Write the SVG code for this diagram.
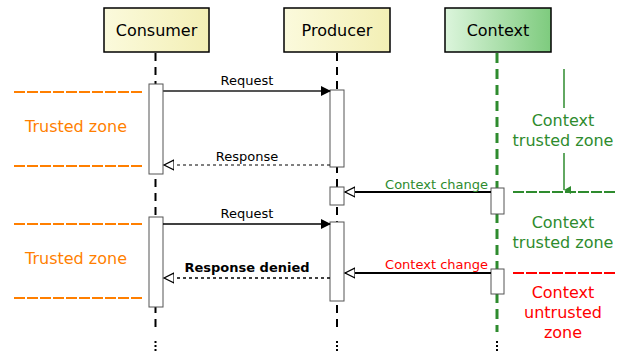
<svg xmlns="http://www.w3.org/2000/svg" width="618" height="355" viewBox="0 0 618 355">
<style>
text{font-family:"DejaVu Sans","Liberation Sans",sans-serif}
.box{stroke:#000;stroke-width:1.5}
.lbl{font-size:16px;text-anchor:middle;fill:#000}
.life{stroke:#000;stroke-width:2;stroke-dasharray:8,6;fill:none}
.act{fill:#fff;stroke:#555;stroke-width:1}
.msg{font-size:13px;text-anchor:middle;fill:#000}
.zone{font-size:16px;text-anchor:middle}
.orange{fill:#ff7f00}
.green{fill:#2e8b2e}
.red{fill:#ff0000}
</style>
<defs>
<linearGradient id="gy" x1="0" x2="1" y1="0" y2="0"><stop offset="0" stop-color="#fbfadc"/><stop offset="1" stop-color="#f3efb5"/></linearGradient>
<linearGradient id="gg" x1="0" x2="1" y1="0" y2="0"><stop offset="0" stop-color="#dcf5dc"/><stop offset="1" stop-color="#7ecb7e"/></linearGradient>
<marker id="filled" markerWidth="10" markerHeight="10" refX="9" refY="5" orient="auto" markerUnits="userSpaceOnUse"><path d="M0,0 L10,5 L0,10 z" fill="#000"/></marker>
<marker id="open" markerWidth="12" markerHeight="12" refX="10" refY="6" orient="auto" markerUnits="userSpaceOnUse"><path d="M0,1 L10,6 L0,11 z" fill="#fff" stroke="#000" stroke-width="1.2"/></marker>
<marker id="garrow" markerWidth="8" markerHeight="8" refX="4" refY="7" orient="auto" markerUnits="userSpaceOnUse"><path d="M0,0 L4,7 L8,0 z" fill="#2e8b2e"/></marker>
</defs>

<g id="lifelines">
<line class="life" x1="155.5" y1="53" x2="155.5" y2="332"/>
<line class="life" x1="337" y1="53" x2="337" y2="332"/>
<line x1="497" y1="53" x2="497" y2="332" stroke="#2e8b2e" stroke-width="3" stroke-dasharray="10,6"/>
<g fill="#000">
<rect x="154.5" y="341" width="2" height="2"/><rect x="154.5" y="345" width="2" height="2"/><rect x="154.5" y="349" width="2" height="2"/>
<rect x="336" y="341" width="2" height="2"/><rect x="336" y="345" width="2" height="2"/><rect x="336" y="349" width="2" height="2"/>
<rect x="496" y="341" width="2" height="2"/><rect x="496" y="345" width="2" height="2"/><rect x="496" y="349" width="2" height="2"/>
</g>
</g>

<g id="consumer">
<rect class="box" x="104" y="8" width="105" height="44" fill="url(#gy)"/>
<text class="lbl" x="156.5" y="36">Consumer</text>
</g>
<g id="producer">
<rect class="box" x="284" y="8" width="106" height="44" fill="url(#gy)"/>
<text class="lbl" x="337" y="36">Producer</text>
</g>
<g id="context">
<rect class="box" x="445" y="8" width="106" height="44" fill="url(#gg)"/>
<text class="lbl" x="498" y="36">Context</text>
</g>

<g id="activations">
<rect class="act" x="149" y="84" width="14" height="90"/>
<rect class="act" x="149" y="217" width="14" height="90"/>
<rect class="act" x="330" y="90" width="14" height="77"/>
<rect class="act" x="330" y="187" width="14" height="18"/>
<rect class="act" x="330" y="222" width="14" height="79"/>
<rect class="act" x="491" y="188" width="13" height="26"/>
<rect class="act" x="491" y="269" width="13" height="25"/>
</g>

<g id="connectors">
<line x1="163" y1="91" x2="330" y2="91" stroke="#555" stroke-width="2" marker-end="url(#filled)"/>
<line x1="330" y1="165" x2="164" y2="165" stroke="#000" stroke-width="1" stroke-dasharray="3,3" marker-end="url(#open)"/>
<line x1="491" y1="192" x2="345" y2="192" stroke="#000" stroke-width="2" marker-end="url(#open)"/>
<line x1="163" y1="224" x2="330" y2="224" stroke="#000" stroke-width="1.5" marker-end="url(#filled)"/>
<line x1="330" y1="278" x2="164" y2="278" stroke="#000" stroke-width="1.5" stroke-dasharray="3,3" marker-end="url(#open)"/>
<line x1="491" y1="273" x2="345" y2="273" stroke="#000" stroke-width="2" marker-end="url(#open)"/>
</g>

<g id="labels">
<text class="msg" x="247" y="85">Request</text>
<text class="msg" x="247" y="161">Response</text>
<text class="msg" x="247" y="218">Request</text>
<text class="msg" x="247" y="272" font-weight="bold">Response denied</text>
<text x="488" y="189" font-size="13" text-anchor="end" class="green">Context change</text>
<text x="488" y="269" font-size="13" text-anchor="end" class="red">Context change</text>
</g>

<g id="trusted-zone-1">
<line x1="14" y1="92" x2="144" y2="92" stroke="#ff7f00" stroke-width="2" stroke-dasharray="11,2"/>
<line x1="14" y1="166" x2="144" y2="166" stroke="#ff7f00" stroke-width="2" stroke-dasharray="11,2"/>
<text class="zone orange" x="76" y="132">Trusted zone</text>
</g>
<g id="trusted-zone-2">
<line x1="14" y1="224" x2="144" y2="224" stroke="#ff7f00" stroke-width="2" stroke-dasharray="11,2"/>
<line x1="14" y1="298" x2="144" y2="298" stroke="#ff7f00" stroke-width="2" stroke-dasharray="11,2"/>
<text class="zone orange" x="76" y="264">Trusted zone</text>
</g>

<g id="context-zones">
<line x1="564" y1="69" x2="564" y2="108" stroke="#2e8b2e" stroke-width="1.5"/>
<text class="zone green" x="563" y="126">Context</text>
<text class="zone green" x="563" y="146">trusted zone</text>
<line x1="564" y1="153" x2="564" y2="190" stroke="#2e8b2e" stroke-width="1.5" marker-end="url(#garrow)"/>
<line x1="513" y1="192" x2="616" y2="192" stroke="#2e8b2e" stroke-width="2" stroke-dasharray="11,2"/>
<text class="zone green" x="563" y="228">Context</text>
<text class="zone green" x="563" y="248">trusted zone</text>
<line x1="513" y1="273" x2="616" y2="273" stroke="#ff0000" stroke-width="2" stroke-dasharray="11,2"/>
<text class="zone red" x="563" y="298">Context</text>
<text class="zone red" x="563" y="318">untrusted</text>
<text class="zone red" x="563" y="338">zone</text>
</g>
</svg>
